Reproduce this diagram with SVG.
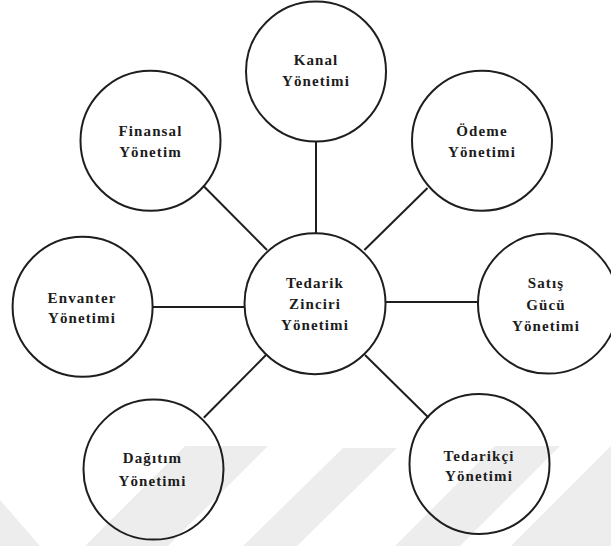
<svg xmlns="http://www.w3.org/2000/svg" width="611" height="546" viewBox="0 0 611 546">
<style>
.node{fill:none;stroke:#1e1e1e;stroke-width:2}
.edge{stroke:#1e1e1e;stroke-width:2;fill:none}
.lbl{font-family:'Liberation Serif','Times New Roman','DejaVu Serif',serif;font-weight:700;font-size:15px;letter-spacing:1.1px;fill:#1c1c1c;text-anchor:middle}
.wm{fill:#ededed}
</style>
<rect width="611" height="546" fill="#ffffff"/>
<g id="watermark">
<polygon class="wm" points="0,500 0,546 40,546"/>
<polygon class="wm" points="185,446 268,446 168,546 85,546"/>
<polygon class="wm" points="343,448 397,448 297,546 243,546"/>
<polygon class="wm" points="495,446 560,446 460,546 395,546"/>
<polygon class="wm" points="611,446 611,546 511,546"/>
</g>
<g id="connectors">
<line class="edge" x1="316" y1="141.5" x2="316" y2="233.7"/>
<line class="edge" x1="203.8" y1="186.3" x2="267" y2="250"/>
<line class="edge" x1="427.5" y1="188" x2="364.4" y2="250"/>
<line class="edge" x1="152.8" y1="307" x2="244.7" y2="307"/>
<line class="edge" x1="385" y1="302" x2="478" y2="302"/>
<line class="edge" x1="203.8" y1="417.8" x2="266" y2="355"/>
<line class="edge" x1="365" y1="355" x2="428.7" y2="417.8"/>
</g>
<g id="center">
<circle class="node" cx="315" cy="303.7" r="70.5"/>
<text class="lbl" x="315" y="288">Tedarik</text>
<text class="lbl" x="315" y="309">Zinciri</text>
<text class="lbl" x="315" y="330">Yönetimi</text>
</g>
<g id="kanal">
<circle class="node" cx="316" cy="71.5" r="70"/>
<text class="lbl" x="316" y="65">Kanal</text>
<text class="lbl" x="316" y="86">Yönetimi</text>
</g>
<g id="finansal">
<circle class="node" cx="150.5" cy="140.7" r="70"/>
<text class="lbl" x="150.5" y="136">Finansal</text>
<text class="lbl" x="150.5" y="157">Yönetim</text>
</g>
<g id="odeme">
<circle class="node" cx="482" cy="140.7" r="70"/>
<text class="lbl" x="482" y="136">Ödeme</text>
<text class="lbl" x="482" y="157">Yönetimi</text>
</g>
<g id="envanter">
<circle class="node" cx="82.6" cy="306.8" r="70"/>
<text class="lbl" x="82" y="302.7">Envanter</text>
<text class="lbl" x="82" y="323.3">Yönetimi</text>
</g>
<g id="satis">
<circle class="node" cx="548" cy="303.6" r="70"/>
<text class="lbl" x="546" y="288">Satış</text>
<text class="lbl" x="546" y="309.5">Gücü</text>
<text class="lbl" x="546" y="331">Yönetimi</text>
</g>
<g id="dagitim">
<circle class="node" cx="153.5" cy="469.6" r="70"/>
<text class="lbl" x="152.5" y="463.3">Dağıtım</text>
<text class="lbl" x="152.5" y="485.5">Yönetimi</text>
</g>
<g id="tedarikci">
<circle class="node" cx="479.5" cy="464" r="70"/>
<text class="lbl" x="479" y="460.5">Tedarikçi</text>
<text class="lbl" x="479" y="481">Yönetimi</text>
</g>
</svg>
